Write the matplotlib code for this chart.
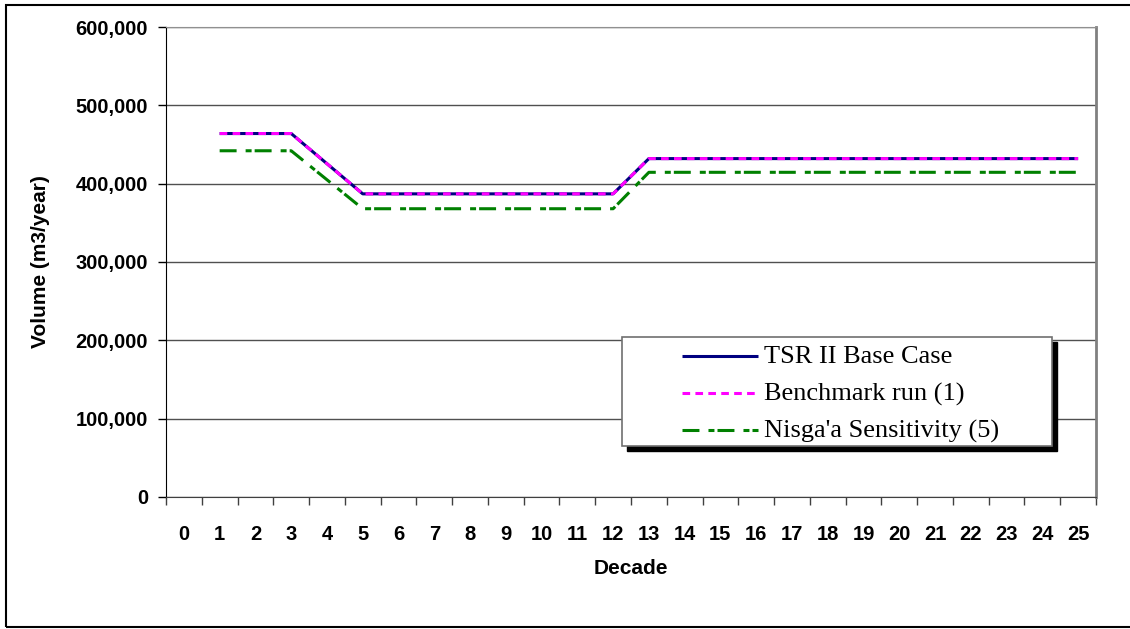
import matplotlib
matplotlib.use("Agg")
import matplotlib.pyplot as plt
from matplotlib.lines import Line2D
from matplotlib.patches import Rectangle
from matplotlib.ticker import FuncFormatter, MultipleLocator
import numpy as np

# Harvest volume by decade for each run
decades = list(range(1, 26))
base_case = [464000, 464000, 464000, 425500, 387000, 387000, 387000, 387000,
             387000, 387000, 387000, 387000, 432000, 432000, 432000, 432000,
             432000, 432000, 432000, 432000, 432000, 432000, 432000, 432000,
             432000]
benchmark = [464000, 464000, 464000, 425500, 387000, 387000, 387000, 387000,
             387000, 387000, 387000, 387000, 432000, 432000, 432000, 432000,
             432000, 432000, 432000, 432000, 432000, 432000, 432000, 432000,
             432000]
nisgaa = [442000, 442000, 442000, 405000, 368000, 368000, 368000, 368000,
          368000, 368000, 368000, 368000, 414500, 414500, 414500, 414500,
          414500, 414500, 414500, 414500, 414500, 414500, 414500, 414500,
          414500]
tick_labels = [str(d) for d in range(0, 26)]

series = [
    ("TSR II Base Case", base_case, dict(color="#000080", linestyle="-")),
    ("Benchmark run (1)", benchmark, dict(color="#FF00FF", dashes=(5.5, 3.8))),
    ("Nisga'a Sensitivity (5)", nisgaa, dict(color="#008000", dashes=(12.2, 6.5, 4.3, 2.2))),
]

plt.rcParams["font.family"] = ["Liberation Sans", "DejaVu Sans"]
plt.rcParams["lines.scale_dashes"] = False

W, H = 1130, 629
fig = plt.figure(figsize=(W / 100, H / 100), dpi=100)


def fx(px):
    return px / W


def fy(py):
    return 1 - py / H


ax = fig.add_axes([fx(166), fy(497), fx(1096) - fx(166), fy(27) - fy(497)])

for name, vals, style in series:
    ax.plot(decades, vals, lw=2.2, solid_capstyle="butt", dash_capstyle="butt", **style)

ax.set_xlim(-0.5, 25.5)
ax.set_ylim(0, 600000)
ax.yaxis.set_major_locator(MultipleLocator(100000))
ax.yaxis.set_major_formatter(FuncFormatter(lambda v, p: f"{v:,.0f}"))
ax.grid(axis="y", color="#505050", lw=1.0)
ax.set_axisbelow(True)

ax.set_xticks(range(0, 26))
ax.set_xticklabels(tick_labels)
ax.set_xticks(np.arange(-0.5, 26, 1), minor=True)
ax.tick_params(axis="x", which="major", length=0, pad=20)
ax.tick_params(axis="x", which="minor", length=6, width=1, direction="out", color="#404040")
ax.tick_params(axis="y", length=6, width=1, direction="out", pad=7)
for lab in ax.get_xticklabels() + ax.get_yticklabels():
    lab.set_fontweight("bold")
    lab.set_fontsize(14.5)

ax.spines["left"].set_color("black")
ax.spines["bottom"].set_color("#404040")
ax.spines["top"].set_color("#909090")
ax.spines["right"].set_color("#808080")
ax.spines["right"].set_linewidth(2)

fig.text(fx(41), fy(262), "Volume (m3/year)", rotation=90, ha="center", va="center",
         fontsize=15, fontweight="bold")
fig.text(fx(631), fy(569), "Decade", ha="center", va="center",
         fontsize=15, fontweight="bold")

# legend box with black drop shadow
lx0, ly0, lx1, ly1 = 622, 337, 1052, 446
fig.patches.append(Rectangle((fx(lx0 + 5), fy(ly1 + 5)), fx(lx1) - fx(lx0), fy(ly0) - fy(ly1),
                             transform=fig.transFigure, facecolor="black", edgecolor="black", zorder=5))
fig.patches.append(Rectangle((fx(lx0), fy(ly1)), fx(lx1) - fx(lx0), fy(ly0) - fy(ly1),
                             transform=fig.transFigure, facecolor="white", edgecolor="#707070",
                             lw=1.2, zorder=6))
for i, (name, vals, style) in enumerate(series):
    yy = 356 + i * 37
    fig.lines.append(Line2D([fx(682), fx(758)], [fy(yy), fy(yy)], transform=fig.transFigure,
                            lw=2.2, solid_capstyle="butt", dash_capstyle="butt", zorder=7, **style))
    fig.text(fx(764), fy(yy + 1), name, ha="left", va="center", fontsize=19,
             family=["Liberation Serif", "DejaVu Serif"], zorder=7)

# outer frame
fig.patches.append(Rectangle((fx(6), fy(627)), fx(1135) - fx(6), fy(5) - fy(627),
                             transform=fig.transFigure, facecolor="none", edgecolor="black",
                             lw=1.5, zorder=8))

fig.savefig("out.png", dpi=100, facecolor="white")
